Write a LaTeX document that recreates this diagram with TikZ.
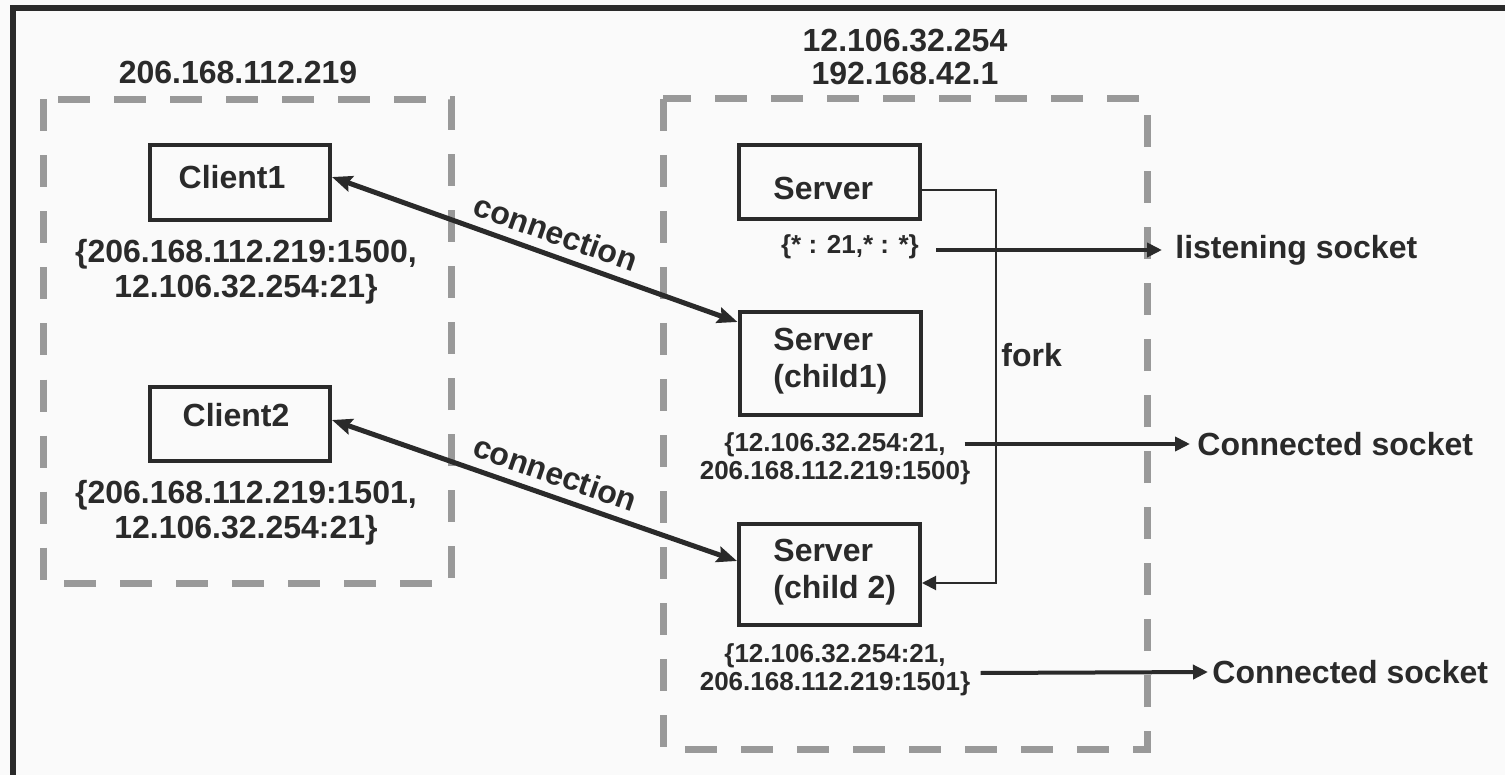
\documentclass[tikz,border=0pt]{standalone}
\usepackage{fontspec}
\setmainfont{Liberation Sans}
\usetikzlibrary{arrows.meta,calc}
\definecolor{ink}{HTML}{2A2A2A}
\definecolor{dashgray}{HTML}{999999}
\definecolor{paper}{HTML}{FAFAFA}

\begin{document}
\begin{tikzpicture}[x=0.5pt,y=-0.5pt,
  txt/.style={font=\bfseries\fontsize{16}{17.5}\selectfont, text=ink, inner sep=0pt, align=center},
  addr/.style={font=\bfseries\fontsize{13}{14}\selectfont, text=ink, inner sep=0pt, align=center},
  proctxt/.style={font=\bfseries\fontsize{16}{18.5}\selectfont, text=ink, inner sep=0pt, align=left, anchor=west},
  procbox/.style={draw=ink, line width=2pt, inner sep=0pt, minimum width=90.5pt},
  host/.style={draw=dashgray, line width=3.5pt, dash pattern=on 16pt off 12pt},
  conn/.style={draw=ink, line width=2.5pt,
    {Stealth[length=10pt,width=8pt,inset=1.5pt]}-{Stealth[length=10pt,width=8pt,inset=1.5pt]}},
  sockarrow/.style={draw=ink, line width=2pt, -{Triangle[length=7.5pt,width=7pt]}},
  forkline/.style={draw=ink, line width=1pt, -{Triangle[length=7pt,width=7pt]}},
]
% page
\fill[paper] (0,0) rectangle (1505,775);
\useasboundingbox (0,0) rectangle (1505,775);

% outer frame
\draw[ink, line width=3pt, line join=miter] (13,775) -- (13,8) -- (1505,8);

% host outlines
\draw[host] (43.5,99.5) rectangle (451,583);
\draw[host] (663,99) rectangle (1147,749);

% host addresses
\node[txt] (hostc) at (238,72) {206.168.112.219};
\node[txt, font=\bfseries\fontsize{16}{16.5}\selectfont] (hosts) at (905,56.5) {12.106.32.254\\192.168.42.1};

% client processes
\node[procbox, minimum width=90pt, minimum height=37.5pt] (c1) at (240,182.5) {};
\node[txt] (c1t) at (232,177) {Client1};
\node[txt] (c1a) at (246,271.5) {\{206.168.112.219:1500,\\12.106.32.254:21\}};

\node[procbox, minimum width=90pt, minimum height=37pt] (c2) at (240,424) {};
\node[txt] (c2t) at (236,415) {Client2};
\node[txt] (c2a) at (246,513) {\{206.168.112.219:1501,\\12.106.32.254:21\}};

% server processes
\node[procbox, minimum height=37pt] (srv) at (829.5,182) {};
\node[proctxt] (srvt) at (773,188) {Server};
\node[addr] (srva) at (850,247) {\{* : 21,* : *\}};

\node[procbox, minimum height=51.5pt] (ch1) at (830,363.5) {};
\node[proctxt] (ch1t) at (773,361.5) {Server\\(child1)};
\node[addr] (ch1a) at (835,459) {\{12.106.32.254:21,\\206.168.112.219:1500\}};

\node[procbox, minimum height=50.5pt] (ch2) at (829.5,574.5) {};
\node[proctxt] (ch2t) at (773,572.5) {Server\\(child 2)};
\node[addr] (ch2a) at (835,670) {\{12.106.32.254:21,\\206.168.112.219:1501\}};

% socket labels
\node[txt, anchor=west] (listen) at (1175,250) {listening socket};
\node[txt, anchor=west] (cs1) at (1197,444) {Connected socket};
\node[txt, anchor=west] (cs2) at (1212,672) {Connected socket};

% connections between clients and server children
\draw[conn] ($(c1.east)+(0,-5.5)$) -- ($(ch1.north west)+(0,12)$)
  node[pos=0.533, sloped, above=4.5pt, txt] (conn1) {connection};
\draw[conn] ($(c2.east)+(0,-4)$) -- ($(ch2.north west)+(0,39)$)
  node[pos=0.533, sloped, above=4.5pt, txt] (conn2) {connection};

% fork
\draw[forkline] ($(srv.east)+(0,8)$) -- ++(74,0) |- ($(ch2.east)+(0,8.5)$);
\node[txt, anchor=west] (forkt) at (1001,355) {fork};

% sockets
\draw[sockarrow] ($(srva.east)+(17,3)$) -- ($(listen.west)+(-13,0)$);
\draw[sockarrow] ($(ch1a.east)+(-6,-15)$) -- ($(cs1.west)+(-7,0)$);
\draw[sockarrow] ($(ch2a.east)+(10,3)$) -- ($(cs2.west)+(-4,0)$);
\end{tikzpicture}
\end{document}
